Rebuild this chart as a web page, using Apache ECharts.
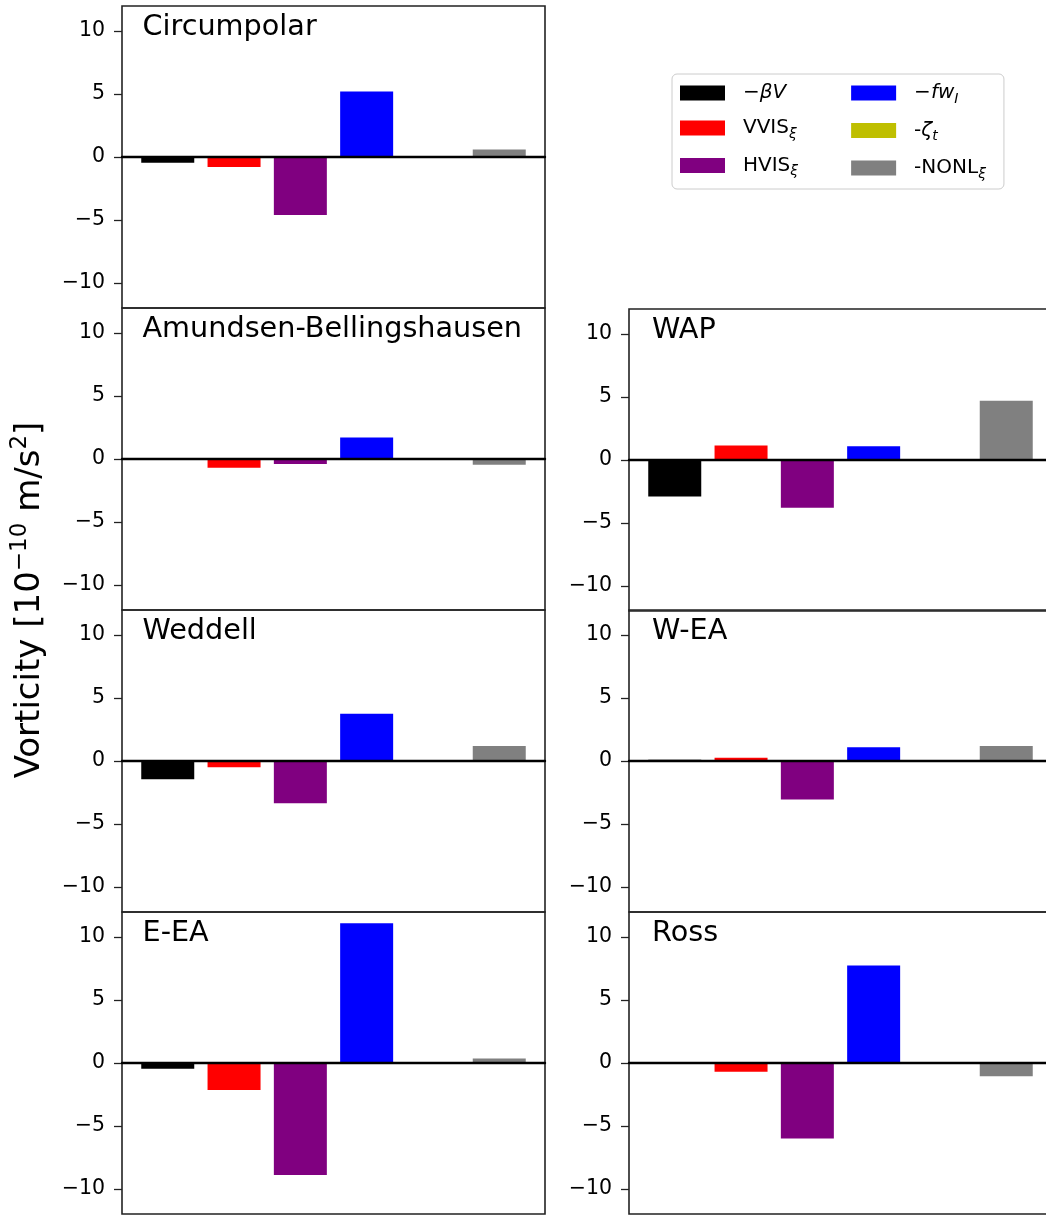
<!DOCTYPE html>
<html><head><meta charset="utf-8">
<script src="https://cdn.jsdelivr.net/npm/echarts@6/dist/echarts.min.js"></script>
<style>html,body{margin:0;padding:0;background:#fff}#c{width:1046px;height:1215px}</style>
</head><body><div id="c"></div><script>
// ---- data ----
const regions = ['Circumpolar', 'Amundsen-Bellingshausen', 'WAP', 'Weddell', 'W-EA', 'E-EA', 'Ross'];
const terms = ['-βV', 'VVIS_ξ', 'HVIS_ξ', '-fw_I', '-ζ_t', '-NONL_ξ'];
const termPositions = [0, 1, 2, 3, 4, 5];
const yTicks = [-10, -5, 0, 5, 10];
const circumpolar = [-0.45, -0.8, -4.6, 5.2, null, 0.6];
const amundsenBellingshausen = [-0.05, -0.7, -0.4, 1.7, null, -0.45];
const wap = [-2.9, 1.15, -3.8, 1.1, null, 4.7];
const weddell = [-1.45, -0.5, -3.35, 3.75, null, 1.2];
const wEA = [0.1, 0.25, -3.05, 1.1, null, 1.2];
const eEA = [-0.45, -2.15, -8.9, 11.1, null, 0.35];
const ross = [0.0, -0.7, -6.0, 7.75, null, -1.05];
const regionValues = [circumpolar, amundsenBellingshausen, wap, weddell, wEA, eEA, ross];

// ---- styles / layout ----
const colors = ['#000000', '#ff0000', '#800080', '#0000ff', '#bfbf00', '#808080'];
const FONT = 'DejaVu Sans';
const panelW = 423, panelH = 302;
const layout = [
  {left: 122, top: 6, tx: 20.5},
  {left: 122, top: 308, tx: 20.5},
  {left: 629, top: 309, tx: 23},
  {left: 122, top: 610, tx: 20.5},
  {left: 629, top: 610, tx: 23},
  {left: 122, top: 912, tx: 20.5},
  {left: 629, top: 912, tx: 23}
];

const grid = [], xAxis = [], yAxis = [], series = [], graphic = [];
layout.forEach((L, p) => {
  grid.push({left: L.left, top: L.top, width: panelW, height: panelH, show: true,
    outerBoundsMode: 'none', containLabel: false,
    borderColor: '#222', borderWidth: 1.6, backgroundColor: 'transparent'});
  xAxis.push({type: 'value', gridIndex: p, min: -0.69, max: 5.69, z: 10,
    axisLabel: {show: false}, axisTick: {show: false}, splitLine: {show: false},
    axisLine: {show: true, onZero: true, lineStyle: {color: '#000', width: 2.4}}});
  yAxis.push({type: 'value', gridIndex: p, min: -12, max: 12,
    splitLine: {show: false},
    axisLine: {show: false, onZero: false},
    axisTick: {show: true, length: 8, customValues: yTicks, lineStyle: {color: '#222', width: 1.3}},
    axisLabel: {show: true, customValues: yTicks, margin: 17, fontSize: 20.5, fontFamily: FONT, color: '#000',
      formatter: v => (v < 0 ? '\u2212' + Math.abs(v) : String(v))}});
  const vals = regionValues[p];
  terms.forEach((t, k) => {
    series.push({type: 'bar', name: t, xAxisIndex: p, yAxisIndex: p, barWidth: 53, barGap: '-100%',
      itemStyle: {color: colors[k]},
      data: vals[k] == null ? [] : [[termPositions[k], vals[k]]]});
  });
  graphic.push({type: 'text', x: L.left + L.tx, y: L.top + 22,
    style: {text: regions[p], fontSize: 28.7, fontFamily: FONT, fill: '#000', align: 'left', verticalAlign: 'middle'}});
});

graphic.push({type: 'text', x: 30, y: 600, rotation: Math.PI / 2,
  style: {text: '{m|Vorticity [10}{s|\u221210}{m| m/s}{s|2}{m|]}', align: 'center', verticalAlign: 'middle',
    rich: {m: {fontSize: 34, lineHeight: 42, fontFamily: FONT, fill: '#000'},
           s: {fontSize: 23, lineHeight: 19, verticalAlign: 'top', fontFamily: FONT, fill: '#000'}}}});

const legendLabels = {
  '-βV': '{n|\u2212}{i|βV}{g| }',
  'VVIS_ξ': '{n|VVIS}{s|ξ}{g| }',
  'HVIS_ξ': '{n|HVIS}{s|ξ}{g| }',
  '-fw_I': '{n|\u2212}{i|fw}{s|I}',
  '-ζ_t': '{n|-}{i|ζ}{s|t}',
  '-NONL_ξ': '{n|-NONL}{s|ξ}'
};

const option = {
  animation: false,
  backgroundColor: '#fff',
  grid, xAxis, yAxis, series, graphic,
  legend: {
    orient: 'vertical', left: 672, top: 74, height: 112,
    padding: [6, 18, 8, 8], itemGap: 11.5, itemWidth: 45, itemHeight: 15,
    icon: 'rect', selectedMode: false,
    backgroundColor: '#fff', borderColor: '#cccccc', borderWidth: 1, borderRadius: 5,
    data: terms,
    formatter: name => legendLabels[name],
    textStyle: {padding: [0, 0, 0, 13], color: '#000', lineHeight: 21,
      rich: {
        n: {fontSize: 20, lineHeight: 21, fontFamily: FONT, color: '#000'},
        i: {fontSize: 20, lineHeight: 21, fontStyle: 'italic', fontFamily: FONT, color: '#000'},
        s: {fontSize: 14, lineHeight: 9, padding: [12, 0, 0, 0], fontStyle: 'italic', fontFamily: FONT, color: '#000'},
        g: {width: 41.5, fontSize: 20, lineHeight: 21}
      }}
  }
};
const chart = echarts.init(document.getElementById('c'), null, {renderer: 'canvas'});
chart.setOption(option);
</script></body></html>
